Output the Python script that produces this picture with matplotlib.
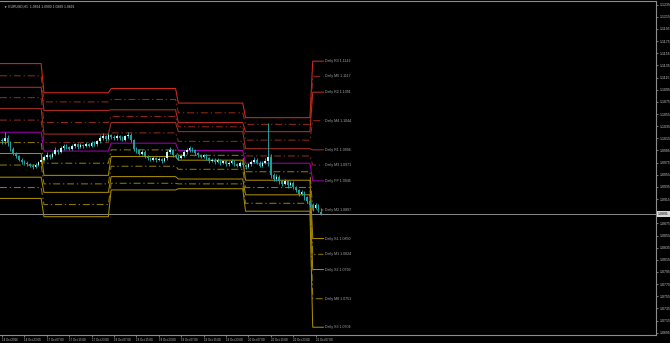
import matplotlib
matplotlib.use("Agg")
import matplotlib.pyplot as plt
import matplotlib.transforms as mtransforms
import numpy as np

# EURUSD H1 candles (bar 0 = 14 Oct 15:00)
opens = [1.1013,1.1010,1.1016,1.1008,1.0998,1.0990,1.0986,1.0980,1.0976,1.0975,1.0972,1.0970,1.0968,1.0971,1.0976,1.0979,
         1.0984,1.0988,1.0984,1.0990,1.0996,1.0993,1.0999,1.1003,1.1000,1.0998,1.1002,1.1005,1.1001,1.1004,1.1002,1.1006,1.1003,1.1008,1.1005,1.1010,1.1016,1.1019,1.1014,1.1020,
         1.1017,1.1015,1.1019,1.1016,1.1013,1.1018,1.1021,1.1012,1.0998,1.0995,1.0990,1.0993,1.0986,1.0982,1.0980,1.0983,1.0979,1.0981,1.0978,1.0982,1.0992,1.0996,1.0988,1.0985,
         1.0983,1.0986,1.0992,1.0996,1.0999,1.0995,1.0991,1.0988,1.0985,1.0987,1.0982,1.0978,1.0980,1.0976,1.0979,1.0974,1.0977,1.0972,1.0975,1.0978,1.0973,1.0970,1.0974,1.0971,
         1.0968,1.0972,1.0976,1.0980,1.0975,1.0970,1.0974,1.0978,1.0985,1.0955,1.0948,1.0952,1.0944,1.0940,1.0945,1.0938,1.0942,1.0935,1.0930,1.0924,1.0927,1.0918,1.0912,1.0906,
         1.0900,1.0905,1.0894]
highs = [1.1016,1.1026,1.1020,1.1011,1.1000,1.0993,1.0988,1.0982,1.0979,1.0977,1.0974,1.0973,1.0974,1.0978,1.0982,1.0987,
         1.0992,1.0990,1.0993,1.1000,1.0998,1.1003,1.1006,1.1005,1.1003,1.1005,1.1008,1.1007,1.1007,1.1006,1.1009,1.1008,1.1011,1.1010,1.1013,1.1020,1.1023,1.1021,1.1024,1.1022,
         1.1020,1.1022,1.1021,1.1018,1.1021,1.1025,1.1023,1.1014,1.1001,1.0997,1.0996,1.0995,1.0988,1.0985,1.0986,1.0985,1.0984,1.0983,1.0985,1.0995,1.1000,1.0998,1.0990,1.0987,
         1.0989,1.0995,1.0999,1.1003,1.1001,1.0997,1.0993,1.0990,1.0990,1.0989,1.0984,1.0983,1.0982,1.0982,1.0981,1.0980,1.0979,1.0978,1.0981,1.0980,1.0975,1.0977,1.0976,1.0973,
         1.0975,1.0979,1.0984,1.0982,1.0977,1.0977,1.0982,1.1040,1.0990,1.0958,1.0956,1.0954,1.0946,1.0948,1.0947,1.0945,1.0944,1.0937,1.0932,1.0930,1.0929,1.0920,1.0914,1.0908,
         1.0908,1.0907,1.0900]
lows = [1.1006,1.1006,1.1002,1.0994,1.0987,1.0983,1.0977,1.0973,1.0972,1.0969,1.0967,1.0965,1.0966,1.0969,1.0973,1.0977,
        1.0981,1.0981,1.0982,1.0987,1.0990,1.0991,1.0996,1.0997,1.0995,1.0996,1.0999,1.0998,1.0999,1.0999,1.1000,1.1000,1.1001,1.1002,1.1003,1.1008,1.1013,1.1011,1.1012,1.1014,
        1.1012,1.1013,1.1013,1.1010,1.1011,1.1015,1.1009,1.0994,1.0991,1.0987,1.0988,1.0983,1.0979,1.0977,1.0978,1.0976,1.0977,1.0975,1.0976,1.0980,1.0989,1.0985,1.0982,1.0980,
        1.0981,1.0984,1.0989,1.0993,1.0992,1.0988,1.0985,1.0982,1.0983,1.0979,1.0975,1.0976,1.0973,1.0974,1.0971,1.0972,1.0969,1.0970,1.0973,1.0970,1.0967,1.0968,1.0968,1.0965,
        1.0966,1.0970,1.0974,1.0972,1.0967,1.0968,1.0972,1.0970,1.0950,1.0944,1.0945,1.0940,1.0936,1.0938,1.0934,1.0936,1.0931,1.0926,1.0920,1.0921,1.0914,1.0908,1.0902,1.0895,
        1.0898,1.0894,1.0889]
closes = [1.1010,1.1016,1.1008,1.0998,1.0990,1.0986,1.0980,1.0976,1.0975,1.0972,1.0970,1.0968,1.0971,1.0976,1.0979,1.0984,
          1.0988,1.0984,1.0990,1.0996,1.0993,1.0999,1.1003,1.1000,1.0998,1.1002,1.1005,1.1001,1.1004,1.1002,1.1006,1.1003,1.1008,1.1005,1.1010,1.1016,1.1019,1.1014,1.1020,1.1017,
          1.1015,1.1019,1.1016,1.1013,1.1018,1.1021,1.1012,1.0998,1.0995,1.0990,1.0993,1.0986,1.0982,1.0980,1.0983,1.0979,1.0981,1.0978,1.0982,1.0992,1.0996,1.0988,1.0985,1.0983,
          1.0986,1.0992,1.0996,1.0999,1.0995,1.0991,1.0988,1.0985,1.0987,1.0982,1.0978,1.0980,1.0976,1.0979,1.0974,1.0977,1.0972,1.0975,1.0978,1.0973,1.0970,1.0974,1.0971,1.0968,
          1.0972,1.0976,1.0980,1.0975,1.0970,1.0974,1.0978,1.0985,1.0955,1.0948,1.0952,1.0944,1.0940,1.0945,1.0938,1.0942,1.0935,1.0930,1.0924,1.0927,1.0918,1.0912,1.0906,1.0900,
          1.0905,1.0897,1.0891]

# daily pivot levels, one value per day (14, 17, 18, 19, 20, 21 Oct)
day_start = [0, 15, 39, 63, 87, 111]
r3 = [1.1138, 1.1090, 1.1097, 1.1073, 1.1049, 1.1142]
m5 = [1.1118, 1.1075, 1.1079, 1.1057, 1.1038, 1.1117]
r2 = [1.1099, 1.1061, 1.1062, 1.1041, 1.1026, 1.1091]
m4 = [1.1082, 1.1041, 1.1051, 1.1034, 1.1012, 1.1044]
r1 = [1.1064, 1.1022, 1.1041, 1.1026, 1.0998, 1.0996]
m3 = [1.1045, 1.1008, 1.1024, 1.1010, 1.0986, 1.0971]
pp = [1.1025, 1.0994, 1.1007, 1.0995, 1.0974, 1.0945]
m2 = [1.1008, 1.0974, 1.0996, 1.0987, 1.0960, 1.0897]
s1 = [1.0990, 1.0954, 1.0985, 1.0979, 1.0946, 1.0850]
m1 = [1.0971, 1.0940, 1.0969, 1.0964, 1.0934, 1.0824]
s2 = [1.0951, 1.0926, 1.0952, 1.0948, 1.0922, 1.0799]
m0 = [1.0934, 1.0906, 1.0941, 1.0940, 1.0908, 1.0751]
s3 = [1.0916, 1.0886, 1.0930, 1.0932, 1.0895, 1.0704]

time_labels = ["14 Oct 2016", "14 Oct 23:00", "17 Oct 07:00", "17 Oct 15:00", "17 Oct 23:00",
               "18 Oct 07:00", "18 Oct 15:00", "18 Oct 23:00", "19 Oct 07:00", "19 Oct 15:00",
               "19 Oct 23:00", "20 Oct 07:00", "20 Oct 15:00", "20 Oct 23:00", "21 Oct 07:00"]
header = "\u25bc EURUSD,H1  1.0894 1.0900 1.0889 1.0891"
bid = 1.0891

plt.rcParams['font.family'] = ['Liberation Sans', 'DejaVu Sans']
plt.rcParams['lines.scale_dashes'] = False
fig = plt.figure(figsize=(6.7, 3.43), dpi=100, facecolor='black')
ax = fig.add_axes([0.0, 8 / 343, 656 / 670, 334.5 / 343], facecolor='black')

n = len(closes)
bars = np.arange(n)
ax.set_xlim(-0.7, 233.6)
ax.set_ylim(1.06912, 1.12419)

# pivot lines
dashdot = (0, (5, 2, 1, 2))
levels = [
    ("R3", r3, '#d42a1c', '-'), ("M5", m5, '#8e2a1c', dashdot), ("R2", r2, '#b82e1e', '-'),
    ("M4", m4, '#8e2a1c', dashdot), ("R1", r1, '#a03020', '-'), ("M3", m3, '#8e2a1c', dashdot),
    ("PP", pp, '#a000a8', '-'),
    ("M2", m2, '#8c7800', dashdot), ("S1", s1, '#a88c00', '-'), ("M1", m1, '#8c7800', dashdot),
    ("S2", s2, '#a88c00', '-'), ("M0", m0, '#8c7800', dashdot), ("S3", s3, '#a88c00', '-'),
]
day_idx = np.searchsorted(day_start, bars, side='right') - 1
x_line = np.concatenate([[ax.get_xlim()[0]], bars, [n - 0.2]])
for name, vals, col, ls in levels:
    v = np.array(vals)[day_idx]
    y_line = np.concatenate([[v[0]], v, [v[-1]]])
    ax.plot(x_line, y_line, color=col, lw=0.75, ls=ls, zorder=2)
    ax.text(n + 0.2, vals[-1], f"Daily {name} {vals[-1]:.4f}", color='#a8a8a8',
            fontsize=2.6, va='center', ha='left', zorder=4)

# bid line
ax.axhline(bid, color='#8a8a8a', lw=0.7, zorder=1)

# candles
o = np.array(opens); h = np.array(highs); l = np.array(lows); c = np.array(closes)
up = c >= o
ax.vlines(bars, l, h, color='#2ab4b4', lw=0.6, zorder=3)
ax.bar(bars[up], np.maximum(c - o, 0.00005)[up], bottom=o[up], width=0.6,
       color='#c4f8f8', lw=0, zorder=3)
ax.bar(bars[~up], (o - c)[~up], bottom=c[~up], width=0.6,
       color='#1e9e9e', lw=0, zorder=3)

# axes styling
for sp in ax.spines.values():
    sp.set_color('#8c8c8c')
    sp.set_linewidth(0.8)
ax.spines['left'].set_visible(False)

ax.yaxis.tick_right()
yt = np.arange(1.0695, 1.1236, 0.002)
ax.set_yticks(yt)
# the bid box sits on top of the tick nearest the bid, as in the terminal
ax.set_yticklabels(["" if abs(v - bid) < 0.0006 else f"{v:.4f}" for v in yt])
ax.tick_params(axis='y', colors='#8c8c8c', labelcolor='#c8c8c8', labelsize=2.5,
               length=1.5, width=0.6, pad=1.2)

ax.set_xticks(np.arange(0, 8 * len(time_labels), 8))
ax.set_xticklabels(time_labels)
ax.tick_params(axis='x', colors='#8c8c8c', labelcolor='#c8c8c8', labelsize=2.1,
               length=1.5, width=0.6, pad=1.0)
for t in ax.get_xticklabels():
    t.set_ha('left')

# current price box
trans = mtransforms.blended_transform_factory(ax.transAxes, ax.transData)
ax.text(1.003, bid, f"{bid:.4f}", transform=trans, fontsize=2.5, color='black',
        va='center', ha='left', zorder=5,
        bbox=dict(boxstyle='square,pad=0.3', facecolor='#d8d8d8', edgecolor='none'))

fig.text(0.006, 0.986, header, color='#c8c8c8', fontsize=2.4, va='top', ha='left')

fig.savefig("out.png", dpi=100, facecolor='black')
